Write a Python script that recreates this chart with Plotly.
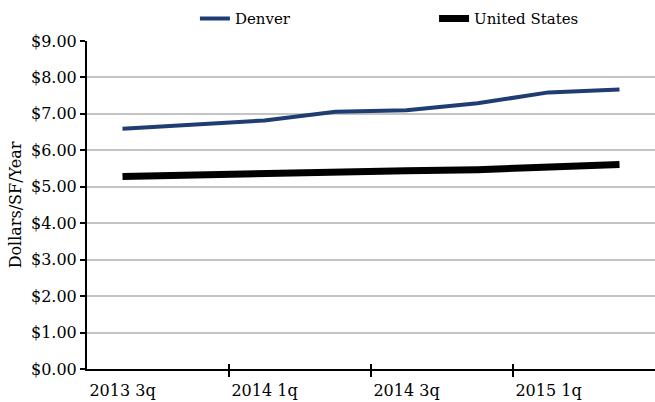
import plotly.graph_objects as go

quarters = ["2013 3q", "2013 4q", "2014 1q", "2014 2q", "2014 3q", "2014 4q", "2015 1q", "2015 2q"]
denver = [6.59, 6.70, 6.82, 7.06, 7.10, 7.29, 7.59, 7.67]
united_states = [5.28, 5.33, 5.36, 5.42, 5.44, 5.47, 5.53, 5.61]

label_positions = [0, 2, 4, 6]
label_text = [quarters[i] for i in label_positions]
boundary_ticks = [1.5, 3.5, 5.5]

FONT = "DejaVu Serif"
x_idx = list(range(len(quarters)))

fig = go.Figure()
fig.add_trace(go.Scatter(x=x_idx, y=denver, name="Denver", mode="lines",
                         line=dict(color="#1f3d73", width=4), legend="legend",
                         text=quarters, hovertemplate="%{text}: $%{y:.2f}"))
fig.add_trace(go.Scatter(x=x_idx, y=united_states, name="United States", mode="lines",
                         line=dict(color="#000000", width=7), legend="legend2",
                         text=quarters, hovertemplate="%{text}: $%{y:.2f}"))

# invisible trace to carry the second x axis (ticks above the baseline)
fig.add_trace(go.Scatter(x=[0], y=[None], xaxis="x2", showlegend=False, hoverinfo="skip"))

legend_style = dict(orientation="h", y=1.068, xanchor="left", yanchor="middle",
                    font=dict(family=FONT, size=15), bgcolor="rgba(0,0,0,0)")

fig.update_layout(
    width=655, height=402,
    margin=dict(l=87, r=0, t=41, b=33),
    paper_bgcolor="white", plot_bgcolor="white",
    font=dict(family=FONT, size=15, color="#000000"),
    showlegend=True,
    legend=dict(x=0.19, **legend_style),
    legend2=dict(x=0.611, **legend_style),
    xaxis=dict(range=[-0.5, 7.5], tickmode="array", tickvals=label_positions,
               ticktext=label_text, ticks="", showgrid=False, zeroline=False,
               showline=True, linecolor="#000000", linewidth=2,
               ticklabelstandoff=6, automargin=False,
               tickfont=dict(family=FONT, size=16),
               minor=dict(tickmode="array", tickvals=boundary_ticks, ticks="outside",
                          ticklen=6, tickwidth=2, tickcolor="#000000", showgrid=False)),
    xaxis2=dict(range=[-0.5, 7.5], overlaying="x", side="bottom", tickmode="array",
                tickvals=boundary_ticks, ticks="inside", ticklen=5, tickwidth=2,
                tickcolor="#000000", showticklabels=False, showgrid=False,
                zeroline=False, showline=False, automargin=False),
    yaxis=dict(range=[0, 9], tickmode="array", tickvals=list(range(10)),
               ticktext=["$%d.00" % v for v in range(10)],
               ticks="outside", ticklen=5, tickwidth=2, tickcolor="#000000",
               showgrid=True, gridcolor="#c4c4c4", gridwidth=2, zeroline=False,
               showline=True, linecolor="#000000", linewidth=2, automargin=False,
               tickfont=dict(family=FONT, size=16),
               title=dict(text="Dollars/SF/Year", font=dict(family=FONT, size=16), standoff=5)),
)

fig.write_html("out.html", config={"displayModeBar": False},
               post_script="document.body.style.margin='0';")
